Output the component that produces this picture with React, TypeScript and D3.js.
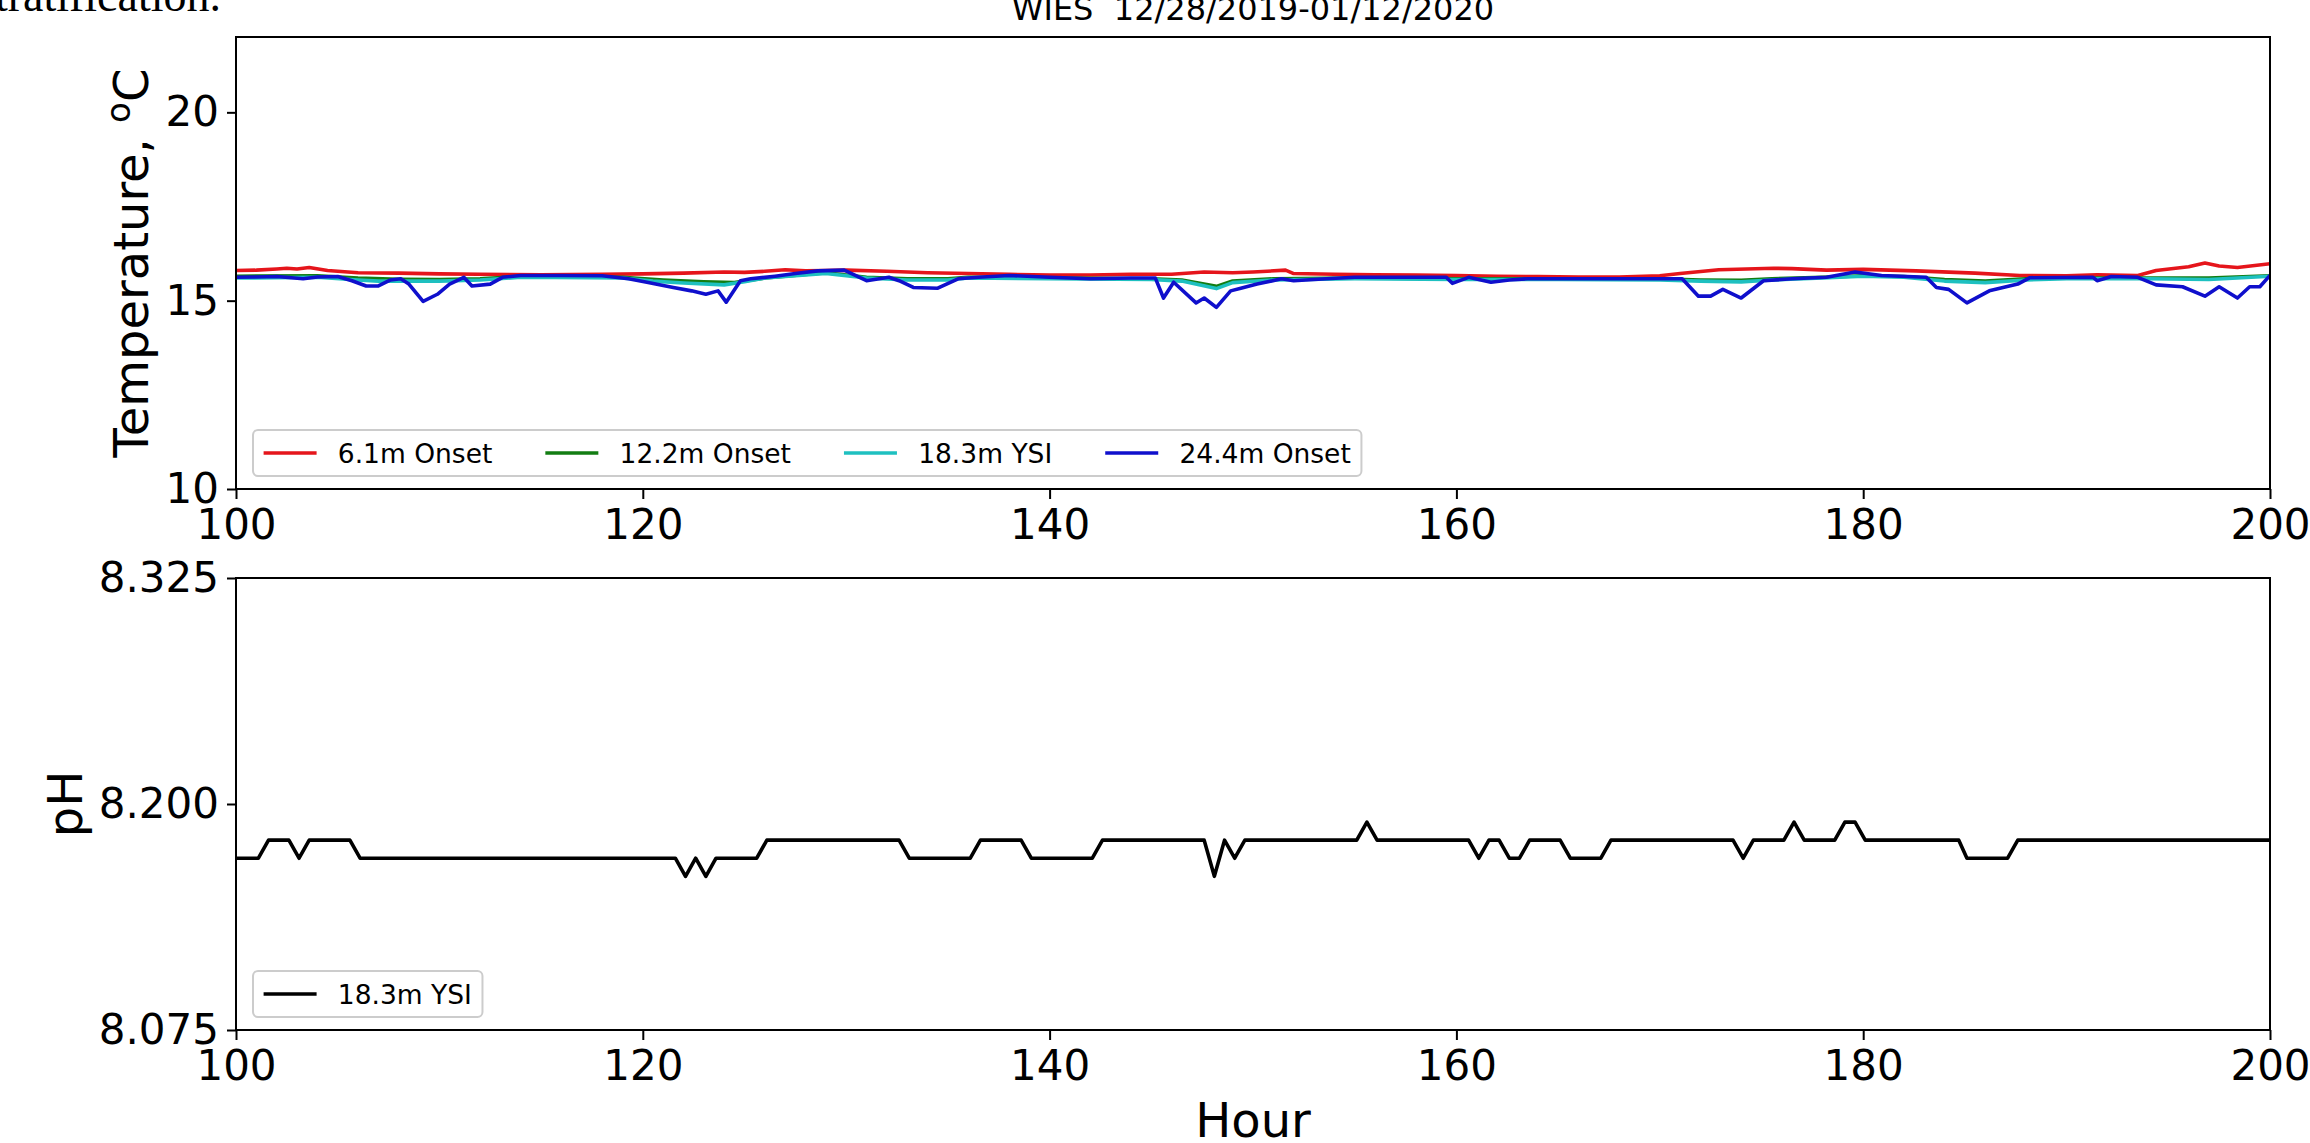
import React, { useRef, useEffect } from "react";
import * as d3 from "d3";

// axes
const hourDomain = [100, 200];
const hourTicks = [100, 120, 140, 160, 180, 200];
const tempDomain = [10, 22];
const tempTicks = [10, 15, 20];
const phDomain = [8.075, 8.325];
const phTicks = [8.075, 8.2, 8.325];

// temperature, [hour, degC]
const t61 = [
  [100, 15.8], [101, 15.81], [102, 15.84], [102.5, 15.86], [103, 15.84], [103.6, 15.88], [104.5, 15.8],
  [106, 15.74], [108, 15.73], [110, 15.71], [112, 15.7], [115, 15.69], [118, 15.7], [120, 15.71],
  [122, 15.73], [124, 15.76], [125, 15.75], [126, 15.78], [127, 15.82], [128, 15.79], [129, 15.8],
  [130, 15.81], [132, 15.78], [134, 15.74], [136, 15.72], [138, 15.7], [140, 15.68], [142, 15.68],
  [144, 15.7], [146, 15.7], [147.6, 15.76], [149, 15.74], [150, 15.76], [151.6, 15.81], [152, 15.72],
  [154, 15.7], [156, 15.69], [158, 15.68], [160, 15.67], [162, 15.65], [164, 15.64], [166, 15.63],
  [168, 15.63], [170, 15.66], [171, 15.72], [172.9, 15.82], [175.6, 15.86], [176.5, 15.85],
  [178.2, 15.81], [180, 15.83], [182.6, 15.79], [185.5, 15.73], [187.7, 15.67], [190, 15.66],
  [191.5, 15.69], [193.5, 15.67], [194.4, 15.8], [196, 15.9], [196.8, 16.0], [197.5, 15.92],
  [198.4, 15.88], [200, 15.98],
];
const t122 = [
  [100, 15.65], [104, 15.66], [106, 15.6], [108, 15.57], [110, 15.56], [112, 15.58], [114, 15.64],
  [119, 15.62], [121, 15.55], [123, 15.5], [124.5, 15.48], [126, 15.6], [129, 15.74], [131, 15.62],
  [133, 15.58], [135, 15.58], [136, 15.62], [140, 15.6], [145, 15.58], [146.5, 15.55], [148.2, 15.38],
  [149, 15.52], [151, 15.58], [155, 15.6], [160, 15.58], [165, 15.58], [170, 15.58], [172, 15.55],
  [174, 15.54], [175.5, 15.58], [178, 15.62], [180, 15.66], [182, 15.64], [184, 15.56], [186, 15.52],
  [188, 15.58], [190, 15.6], [194, 15.6], [197, 15.6], [200, 15.66],
];
const t183 = [
  [100, 15.6], [104, 15.62], [106, 15.55], [107, 15.52], [110, 15.52], [112, 15.55], [114, 15.62],
  [119, 15.6], [120.5, 15.52], [122, 15.47], [124, 15.42], [125, 15.5], [126, 15.6], [129, 15.72],
  [131, 15.6], [133, 15.55], [135, 15.55], [136, 15.6], [140, 15.58], [145, 15.56], [146.5, 15.52],
  [148.2, 15.32], [149, 15.48], [151, 15.55], [155, 15.58], [160, 15.56], [165, 15.56], [170, 15.55],
  [172, 15.52], [174, 15.5], [175.5, 15.55], [178, 15.6], [180, 15.65], [182, 15.62], [184, 15.52],
  [186, 15.48], [188, 15.55], [190, 15.58], [194, 15.58], [197, 15.56], [200, 15.65],
];
const t244 = [
  [100, 15.62], [101, 15.63], [102, 15.64], [103.3, 15.58], [104, 15.63], [105, 15.64], [105.7, 15.53],
  [106.4, 15.39], [107, 15.39], [107.6, 15.55], [108.1, 15.58], [108.5, 15.44], [109.2, 14.98],
  [109.9, 15.17], [110.5, 15.44], [111.2, 15.62], [111.6, 15.39], [112.5, 15.44], [113.1, 15.62],
  [114, 15.67], [116, 15.67], [118, 15.66], [119.3, 15.58], [120.2, 15.49], [121.5, 15.35],
  [122.4, 15.26], [123.1, 15.17], [123.7, 15.26], [124.1, 14.96], [124.8, 15.53], [125.3, 15.58],
  [126.5, 15.65], [127.5, 15.72], [128.6, 15.79], [129.9, 15.81], [131, 15.53], [132.1, 15.62],
  [132.6, 15.53], [133.3, 15.35], [134.5, 15.33], [135.5, 15.58], [136.5, 15.62], [138, 15.67],
  [140, 15.62], [142, 15.58], [144, 15.6], [145.2, 15.6], [145.6, 15.07], [146.1, 15.49],
  [147.2, 14.94], [147.6, 15.07], [148.2, 14.82], [148.9, 15.26], [149.4, 15.33], [150.2, 15.44],
  [151.4, 15.58], [152, 15.53], [153.6, 15.58], [155, 15.62], [157, 15.62], [159.5, 15.62],
  [159.8, 15.46], [160.6, 15.62], [161.7, 15.49], [162.6, 15.55], [163.5, 15.58], [165, 15.58],
  [167, 15.58], [171.1, 15.58], [171.9, 15.12], [172.5, 15.12], [173.1, 15.3], [174, 15.07],
  [175.1, 15.53], [176.5, 15.58], [178.2, 15.62], [179.6, 15.76], [180.9, 15.67], [183.1, 15.62],
  [183.6, 15.35], [184.2, 15.3], [185.1, 14.94], [186.2, 15.26], [187.6, 15.44], [188.2, 15.61],
  [191.3, 15.62], [191.5, 15.53], [192.2, 15.64], [193.5, 15.62], [194.4, 15.42], [195.7, 15.37],
  [196.8, 15.12], [197.5, 15.37], [198.4, 15.07], [199, 15.37], [199.5, 15.37], [200, 15.67],
];

// pH at 18.3m, [hour, pH]
const ph183 = [
  [100, 8.17], [101.1, 8.17], [101.6, 8.18], [102.6, 8.18], [103.1, 8.17], [103.6, 8.18],
  [105.6, 8.18], [106.1, 8.17], [121.6, 8.17], [122.1, 8.16], [122.6, 8.17], [123.1, 8.16],
  [123.6, 8.17], [125.6, 8.17], [126.1, 8.18], [132.6, 8.18], [133.1, 8.17], [136.1, 8.17],
  [136.6, 8.18], [138.6, 8.18], [139.1, 8.17], [142.1, 8.17], [142.6, 8.18], [147.6, 8.18],
  [148.1, 8.16], [148.6, 8.18], [149.1, 8.17], [149.6, 8.18], [155.1, 8.18], [155.6, 8.19],
  [156.1, 8.18], [160.6, 8.18], [161.1, 8.17], [161.6, 8.18], [162.1, 8.18], [162.6, 8.17],
  [163.1, 8.17], [163.6, 8.18], [165.1, 8.18], [165.6, 8.17], [167.1, 8.17], [167.6, 8.18],
  [173.6, 8.18], [174.1, 8.17], [174.6, 8.18], [176.1, 8.18], [176.6, 8.19], [177.1, 8.18],
  [178.6, 8.18], [179.1, 8.19], [179.6, 8.19], [180.1, 8.18], [184.7, 8.18], [185.1, 8.17],
  [187.1, 8.17], [187.6, 8.18], [200, 8.18],
];

const tempSeries = [t61, t122, t183, t244];
const tempNames = ["6.1m Onset", "12.2m Onset", "18.3m YSI", "24.4m Onset"];
const tempColors = ["#e5151b", "#127d12", "#1ec0c0", "#0f0fcc"];

const FONT = "DejaVu Sans";

export default function App() {
  const d3Chart = useRef(null);

  useEffect(() => {
    const svg = d3.select(d3Chart.current);
    svg.selectAll("*").remove();

    const left = 236, right = 2270;
    const top1 = 37, bottom1 = 489;
    const top2 = 578, bottom2 = 1030;

    const x = d3.scaleLinear().domain(hourDomain).range([left, right]);
    const yT = d3.scaleLinear().domain(tempDomain).range([bottom1, top1]);
    const yP = d3.scaleLinear().domain(phDomain).range([bottom2, top2]);

    svg.append("rect").attr("width", 2310).attr("height", 1143).attr("fill", "#fff");

    // leftover text from the page above
    svg.append("text")
      .attr("x", 221).attr("y", 11)
      .attr("text-anchor", "end")
      .attr("font-family", "Liberation Serif")
      .attr("font-size", 46)
      .text("stratification.");

    svg.append("text")
      .attr("x", (left + right) / 2).attr("y", 20)
      .attr("text-anchor", "middle")
      .attr("font-family", FONT)
      .attr("font-size", 32)
      .text("WIES\u00a0\u00a012/28/2019-01/12/2020");

    function panel(y, top, bottom, yTicks, yFmt, series, names, colors, id) {
      svg.append("clipPath").attr("id", id)
        .append("rect").attr("x", left).attr("y", top)
        .attr("width", right - left).attr("height", bottom - top);

      const line = d3.line().x((d) => x(d[0])).y((d) => y(d[1]));
      const lines = svg.append("g").attr("clip-path", `url(#${id})`);
      series.forEach((s, i) => {
        lines.append("path")
          .attr("d", line(s))
          .attr("fill", "none")
          .attr("stroke", colors[i])
          .attr("stroke-width", 3.6)
          .attr("stroke-linejoin", "round");
      });

      const gx = svg.append("g").attr("transform", `translate(0,${bottom})`)
        .call(d3.axisBottom(x).tickValues(hourTicks).tickSize(10).tickPadding(10).tickFormat(d3.format("d")));
      const gy = svg.append("g").attr("transform", `translate(${left},0)`)
        .call(d3.axisLeft(y).tickValues(yTicks).tickSize(9).tickPadding(8).tickFormat(yFmt));
      [gx, gy].forEach((g) => {
        g.select(".domain").remove();
        g.selectAll("line").attr("stroke", "#000").attr("stroke-width", 2);
        g.selectAll("text").attr("font-family", FONT).attr("font-size", 42).attr("fill", "#000");
      });

      svg.append("rect")
        .attr("x", left).attr("y", top)
        .attr("width", right - left).attr("height", bottom - top)
        .attr("fill", "none").attr("stroke", "#000").attr("stroke-width", 2);

      // legend, lower left, one row
      const fs = 26.5;
      const lg = svg.append("g");
      const box = lg.append("rect");
      const cy = bottom - 13 - 23;
      let cx = left + 17 + 0.4 * fs;
      names.forEach((n, i) => {
        lg.append("line")
          .attr("x1", cx).attr("x2", cx + 2 * fs)
          .attr("y1", cy).attr("y2", cy)
          .attr("stroke", colors[i]).attr("stroke-width", 3.6);
        cx += 2.8 * fs;
        const t = lg.append("text")
          .attr("x", cx).attr("y", cy).attr("dy", "0.36em")
          .attr("font-family", FONT).attr("font-size", fs)
          .text(n);
        cx += t.node().getComputedTextLength();
        if (i < names.length - 1) cx += 2 * fs;
      });
      box.attr("x", left + 17).attr("y", cy - 23)
        .attr("width", cx + 0.4 * fs - (left + 17)).attr("height", 46)
        .attr("rx", 5).attr("fill", "#fff").attr("fill-opacity", 0.8)
        .attr("stroke", "#cccccc").attr("stroke-width", 2);
    }

    panel(yT, top1, bottom1, tempTicks, d3.format("d"), tempSeries, tempNames, tempColors, "clipT");
    panel(yP, top2, bottom2, phTicks, d3.format(".3f"), [ph183], ["18.3m YSI"], ["#000"], "clipP");

    // axis labels
    const tl = svg.append("text")
      .attr("transform", `translate(148,${(top1 + bottom1) / 2}) rotate(-90)`)
      .attr("text-anchor", "middle")
      .attr("font-family", FONT).attr("font-size", 48);
    tl.append("tspan").text("Temperature, ");
    tl.append("tspan").attr("font-size", 34).attr("dy", -18).text("o");
    tl.append("tspan").attr("dy", 18).text("C");

    svg.append("text")
      .attr("transform", `translate(82,${(top2 + bottom2) / 2}) rotate(-90)`)
      .attr("text-anchor", "middle")
      .attr("font-family", FONT).attr("font-size", 48)
      .text("pH");

    svg.append("text")
      .attr("x", (left + right) / 2).attr("y", 1137)
      .attr("text-anchor", "middle")
      .attr("font-family", FONT).attr("font-size", 48)
      .text("Hour");
  }, []);

  return (
    <svg
      ref={d3Chart}
      width={2310}
      height={1143}
      style={{ position: "absolute", left: 0, top: 0 }}
    ></svg>
  );
}
